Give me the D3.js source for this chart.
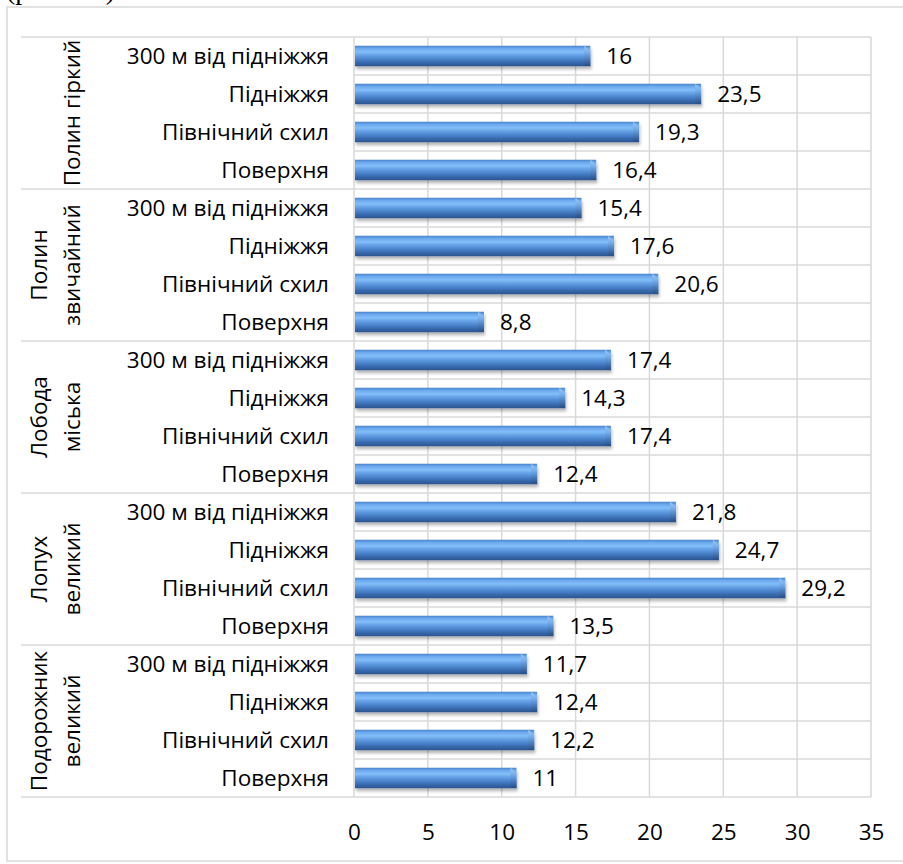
<!DOCTYPE html>
<html>
<head>
<meta charset="utf-8">
<script src="https://cdn.jsdelivr.net/npm/d3@7"></script>
<style>
  body { margin: 0; background: #fff; }
  svg { display: block; }
  .lbl { font-family: "Open Sans", sans-serif; font-size: 22.5px; fill: #000; }
</style>
</head>
<body>
<svg id="chart" width="903" height="864"></svg>
<script>
// Plant groups (two-line labels as drawn in the left column)
const groupNames = ["Полин гіркий", "Полин звичайний", "Лобода міська", "Лопух великий", "Подорожник великий"];
const groupLabelLines = [["Полин гіркий"], ["Полин", "звичайний"], ["Лобода", "міська"], ["Лопух", "великий"], ["Подорожник", "великий"]];

// Sampling sites within each group, top to bottom
const sites = ["300 м від підніжжя", "Підніжжя", "Північний схил", "Поверхня"];

// Values per group, in the same order as `sites`
const polynHirkyi     = [16, 23.5, 19.3, 16.4];
const polynZvychainyi = [15.4, 17.6, 20.6, 8.8];
const lobodaMiska     = [17.4, 14.3, 17.4, 12.4];
const lopukhVelykyi   = [21.8, 24.7, 29.2, 13.5];
const podorozhnyk     = [11.7, 12.4, 12.2, 11];

const xTicks = [0, 5, 10, 15, 20, 25, 30, 35];

const groupValues = [polynHirkyi, polynZvychainyi, lobodaMiska, lopukhVelykyi, podorozhnyk];
const rows = [];
groupNames.forEach((g, gi) => {
  sites.forEach((s, si) => rows.push({ key: gi + "|" + si, group: gi, site: s, value: groupValues[gi][si] }));
});

const svg = d3.select("#chart");
const plotL = 354, plotR = 871, plotT = 37, plotB = 797;

const x = d3.scaleLinear().domain([0, 35]).range([plotL, plotR]);
const y = d3.scaleBand().domain(rows.map(d => d.key)).range([plotT, plotB])
  .paddingInner(0.46).paddingOuter(0.23);
const step = y.step();

// Caption line of the surrounding page, clipped at the top edge
svg.append("text")
  .attr("x", 6).attr("y", -1)
  .style("font-family", "'Liberation Serif', serif").style("font-size", "28px")
  .text("(рис. 3.1)");

// Outer chart frame
svg.append("rect")
  .attr("x", 7).attr("y", 7).attr("width", 903).attr("height", 854)
  .attr("fill", "none").attr("stroke", "#d9d9d9").attr("stroke-width", 1.5);

// Defs: cylindrical gradient and drop shadow for bars
const defs = svg.append("defs");
const grad = defs.append("linearGradient").attr("id", "barGrad")
  .attr("x1", 0).attr("y1", 0).attr("x2", 0).attr("y2", 1);
[[0, "#4a84cc"], [0.14, "#6eaaf0"], [0.3, "#82bef8"], [0.45, "#67a3e7"], [0.62, "#4f88d0"], [0.8, "#3a6db2"], [1, "#2a548d"]]
  .forEach(([o, c]) => grad.append("stop").attr("offset", o).attr("stop-color", c));
const capGrad = defs.append("linearGradient").attr("id", "capGrad")
  .attr("x1", 0).attr("y1", 0).attr("x2", 0).attr("y2", 1);
[[0, "#a6d0fa"], [0.4, "#6aa2e2"], [1, "#24497e"]]
  .forEach(([o, c]) => capGrad.append("stop").attr("offset", o).attr("stop-color", c));
const shadow = defs.append("filter").attr("id", "barShadow")
  .attr("x", "-5%").attr("y", "-40%").attr("width", "110%").attr("height", "200%");
shadow.append("feDropShadow").attr("dx", 1).attr("dy", 3).attr("stdDeviation", 1.8)
  .attr("flood-color", "#000").attr("flood-opacity", 0.28);

// Gridlines
const grid = svg.append("g").attr("stroke", "#d9d9d9").attr("stroke-width", 1.5);
grid.selectAll("line.v").data(xTicks).join("line").attr("class", "v")
  .attr("x1", d => x(d)).attr("x2", d => x(d)).attr("y1", plotT).attr("y2", plotB);
const boundaries = d3.range(rows.length + 1);
grid.selectAll("line.h").data(boundaries).join("line").attr("class", "h")
  .attr("x1", d => (d % sites.length === 0 ? 21 : plotL)).attr("x2", plotR)
  .attr("y1", d => plotT + d * step).attr("y2", d => plotT + d * step);

// Bars
const bars = svg.append("g");
const barG = bars.selectAll("g").data(rows).join("g").attr("filter", "url(#barShadow)");
barG.append("rect")
  .attr("x", x(0) + 1).attr("y", d => y(d.key))
  .attr("width", d => x(d.value) - x(0) - 1).attr("height", y.bandwidth())
  .attr("fill", "url(#barGrad)");
barG.append("path")
  .attr("d", d => {
    const x1 = x(d.value), y0 = y(d.key), y1 = y0 + y.bandwidth();
    return `M${x1 - 6},${y0} L${x1},${y0 + 5} L${x1},${y1} L${x1 - 6},${y1 - 1} Z`;
  })
  .attr("fill", "url(#capGrad)").attr("opacity", 0.85);

// Value labels
svg.append("g").selectAll("text").data(rows).join("text")
  .attr("class", "lbl")
  .attr("x", d => x(d.value) + 16)
  .attr("y", d => y(d.key) + y.bandwidth() / 2 + 8)
  .text(d => String(d.value).replace(".", ","));

// Site labels
svg.append("g").selectAll("text").data(rows).join("text")
  .attr("class", "lbl").attr("text-anchor", "end")
  .attr("x", 329)
  .attr("y", d => y(d.key) + y.bandwidth() / 2 + 8)
  .text(d => d.site);

// Group labels, rotated
const gl = svg.append("g").selectAll("text").data(groupLabelLines).join("text")
  .attr("class", "lbl").attr("text-anchor", "middle")
  .attr("transform", (d, i) => `translate(0,${plotT + (i * sites.length + sites.length / 2) * step}) rotate(-90)`);
gl.selectAll("tspan").data(d => d).join("tspan")
  .attr("x", 0)
  .attr("y", (t, i, nodes) => 80 - (nodes.length - 1 - i) * 33)
  .text(t => t);

// X axis
const axis = svg.append("g").attr("transform", `translate(0,${plotB})`)
  .call(d3.axisBottom(x).tickValues(xTicks).tickSize(0).tickFormat(d3.format("d")));
axis.select(".domain").remove();
axis.selectAll("text").attr("class", "lbl").attr("dy", null).attr("y", 43);
</script>
</body>
</html>
